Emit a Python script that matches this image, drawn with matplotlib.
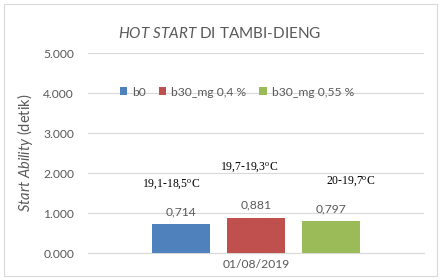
import matplotlib.pyplot as plt
import numpy as np
from matplotlib.patches import Patch, Rectangle

plt.rcParams["font.family"] = ["Lato", "DejaVu Sans"]
plt.rcParams["mathtext.fontset"] = "custom"
plt.rcParams["mathtext.rm"] = "Liberation Serif"
plt.rcParams["mathtext.it"] = "Lato:italic"

# data
category = "01/08/2019"
series = ["b0", "b30_mg 0,4 %", "b30_mg 0,55 %"]
values = [0.714, 0.881, 0.797]
value_labels = ["0,714", "0,881", "0,797"]
temp_labels = [
    r"19,1-18,5$^{\mathrm{o}}$C",
    r"19,7-19,3$^{\mathrm{o}}$C",
    r"20-19,7$^{\mathrm{o}}$C",
]
temp_label_y = [1.72, 2.15, 1.8]
temp_label_dx = [-0.03, -0.02, 0.06]

colors_list = ["#4F81BD", "#C0504D", "#9BBB59"]
text_gray = "#595959"
grid_gray = "#D9D9D9"

fig = plt.figure(figsize=(4.4, 2.8), dpi=100)
fig.patches.append(Rectangle((4 / 440, 4 / 280), 433 / 440, 272 / 280,
                             transform=fig.transFigure, fill=False,
                             edgecolor=grid_gray, linewidth=0.8))
ax = fig.add_axes([88 / 440, 27 / 280, 336 / 440, 200 / 280])

width = 0.173
step = 0.2225
xs = (np.arange(len(values)) - 1) * step
ax.bar(xs, values, width=width, color=colors_list, zorder=3)

for x, v, lab in zip(xs, values, value_labels):
    ax.annotate(lab, (x, v), xytext=(0, 5), textcoords="offset points",
                ha="center", va="bottom", fontsize=8.7, color=text_gray)
for x, dx, y, lab in zip(xs, temp_label_dx, temp_label_y, temp_labels):
    ax.text(x + dx, y, lab, ha="center", va="center", fontsize=8.4,
            family="Liberation Serif", color="black")

ax.set_xlim(-0.5, 0.5)
ax.set_ylim(0, 5)
yt = np.arange(0, 6)
ax.set_yticks(yt)
ax.set_yticklabels([f"{v:.3f}" for v in yt], fontsize=8.7, color=text_gray)
ax.set_xticks([0])
ax.set_xticklabels([category], fontsize=8.7, color=text_gray)
ax.tick_params(length=0, pad=10)
ax.tick_params(axis="x", pad=4)
ax.grid(axis="y", color=grid_gray, linewidth=0.8, zorder=0)
for s in ["top", "right", "left"]:
    ax.spines[s].set_visible(False)
ax.spines["bottom"].set_color(grid_gray)
ax.spines["bottom"].set_linewidth(0.8)

ax.set_ylabel(r"$\mathit{Start\ Ability}$ (detik)", fontsize=10.5,
              color=text_gray, labelpad=6)

handles = [Patch(facecolor=c, label=s) for c, s in zip(colors_list, series)]
ax.legend(handles=handles, loc="center", bbox_to_anchor=(0.443, 0.805),
          ncol=3, frameon=False, fontsize=8.7, labelcolor=text_gray,
          handlelength=0.6, handleheight=0.6, handletextpad=0.4,
          columnspacing=1.1)

fig.text(0.5, 1 - 33 / 280, r"$\mathit{HOT\ START}$ DI TAMBI-DIENG",
         ha="center", va="center", fontsize=11, color=text_gray)

fig.savefig("out.png", dpi=100)
